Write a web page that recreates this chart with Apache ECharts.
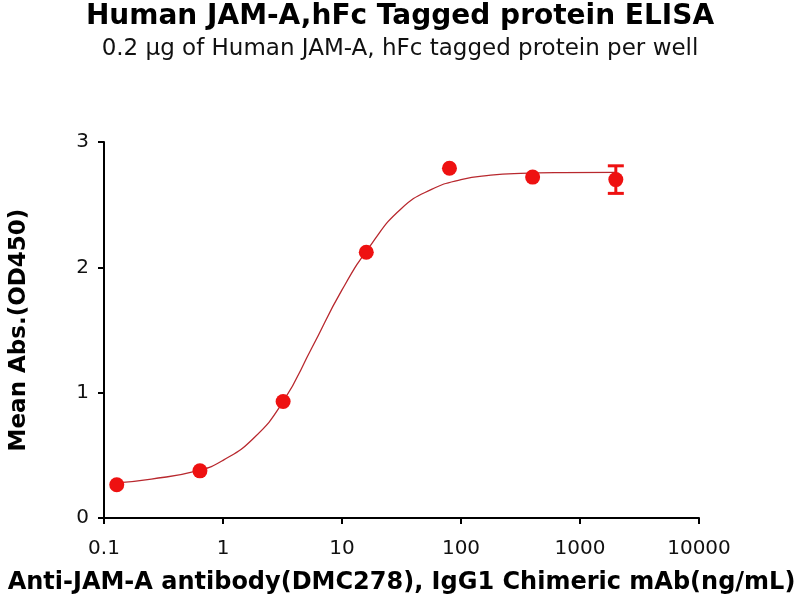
<!DOCTYPE html>
<html>
<head>
<meta charset="utf-8">
<script src="https://cdn.jsdelivr.net/npm/echarts@6/dist/echarts.min.js"></script>
<style>
  html, body { margin: 0; padding: 0; background: #fff; }
  #chart { width: 800px; height: 600px; }
</style>
</head>
<body>
<div id="chart"></div>
<script>
// measured points (ng/mL vs OD450)
var concentrations = [0.128, 0.64, 3.2, 16, 80, 400, 2000];
var meanAbs = [0.265, 0.376, 0.93, 2.12, 2.79, 2.72, 2.70];
var errAbs = [0, 0, 0, 0, 0, 0, 0.11];

// fitted curve
var curveX = [0.128, 0.25, 0.63, 1, 1.78, 3.16, 5.6, 10, 17.8, 31.6, 56, 100, 178, 316, 700, 2000];
var curveY = [0.28, 0.31, 0.38, 0.46, 0.63, 0.92, 1.36, 1.82, 2.19, 2.47, 2.62, 2.70, 2.735, 2.75, 2.756, 2.757];

var xTickLabels = ['0.1', '1', '10', '100', '1000', '10000'];
var yTickLabels = ['0', '1', '2', '3'];

var pointData = concentrations.map(function (c, i) { return [c, meanAbs[i]]; });
var errData = [];
concentrations.forEach(function (c, i) {
  if (errAbs[i] > 0) errData.push([c, meanAbs[i] - errAbs[i], meanAbs[i] + errAbs[i]]);
});
var curveData = curveX.map(function (c, i) { return [c, curveY[i]]; });

var font = 'DejaVu Sans, Liberation Sans, Arial';
var myChart = echarts.init(document.getElementById('chart'));

var option = {
  backgroundColor: '#fff',
  animation: false,
  title: {
    text: 'Human JAM-A,hFc Tagged protein ELISA',
    subtext: '0.2 \u03bcg of Human JAM-A, hFc tagged protein per well',
    left: 'center',
    top: -2,
    itemGap: 7,
    textStyle: { fontFamily: font, fontSize: 28, fontWeight: 'bold', color: '#000' },
    subtextStyle: { fontFamily: font, fontSize: 23, color: '#111' }
  },
  grid: { left: 101, right: 101, top: 142, bottom: 82 },
  xAxis: {
    type: 'log',
    logBase: 10,
    min: 0.1,
    max: 10000,
    name: 'Anti-JAM-A antibody(DMC278), IgG1 Chimeric mAb(ng/mL)',
    nameLocation: 'middle',
    nameGap: 53,
    nameTextStyle: { fontFamily: font, fontSize: 24, fontWeight: 'bold', color: '#000' },
    axisLine: { lineStyle: { color: '#000', width: 2 } },
    axisTick: { length: 6, lineStyle: { color: '#000', width: 2 } },
    axisLabel: {
      margin: 21,
      fontFamily: font,
      fontSize: 20,
      color: '#111',
      formatter: function (v) { return xTickLabels[Math.round(Math.log10(v)) + 1]; }
    },
    splitLine: { show: false },
    minorTick: { show: false }
  },
  yAxis: {
    type: 'value',
    min: 0,
    max: 3,
    interval: 1,
    name: 'Mean Abs.(OD450)',
    nameLocation: 'middle',
    nameGap: 73,
    nameTextStyle: { fontFamily: font, fontSize: 23, fontWeight: 'bold', color: '#000' },
    axisLine: { show: true, lineStyle: { color: '#000', width: 2 } },
    axisTick: { show: true, length: 6, lineStyle: { color: '#000', width: 2 } },
    axisLabel: {
      margin: 15,
      fontFamily: font,
      fontSize: 20,
      color: '#111',
      formatter: function (v) { return yTickLabels[Math.round(v)]; }
    },
    splitLine: { show: false }
  },
  series: [
    {
      name: 'fit',
      type: 'line',
      data: curveData,
      smooth: 0.5,
      showSymbol: false,
      symbol: 'none',
      lineStyle: { color: '#b8282e', width: 1.3 },
      z: 2
    },
    {
      name: 'error',
      type: 'custom',
      data: errData,
      renderItem: function (params, api) {
        var lo = api.coord([api.value(0), api.value(1)]);
        var hi = api.coord([api.value(0), api.value(2)]);
        var half = 8;
        var style = { stroke: '#ee1111', lineWidth: 3 };
        return {
          type: 'group',
          children: [
            { type: 'line', shape: { x1: lo[0], y1: lo[1], x2: hi[0], y2: hi[1] }, style: style },
            { type: 'line', shape: { x1: lo[0] - half, y1: lo[1], x2: lo[0] + half, y2: lo[1] }, style: style },
            { type: 'line', shape: { x1: hi[0] - half, y1: hi[1], x2: hi[0] + half, y2: hi[1] }, style: style }
          ]
        };
      },
      z: 3
    },
    {
      name: 'points',
      type: 'scatter',
      data: pointData,
      symbol: 'circle',
      symbolSize: 15,
      itemStyle: { color: '#ee1111', opacity: 1 },
      z: 4
    }
  ]
};

myChart.setOption(option);
</script>
</body>
</html>
